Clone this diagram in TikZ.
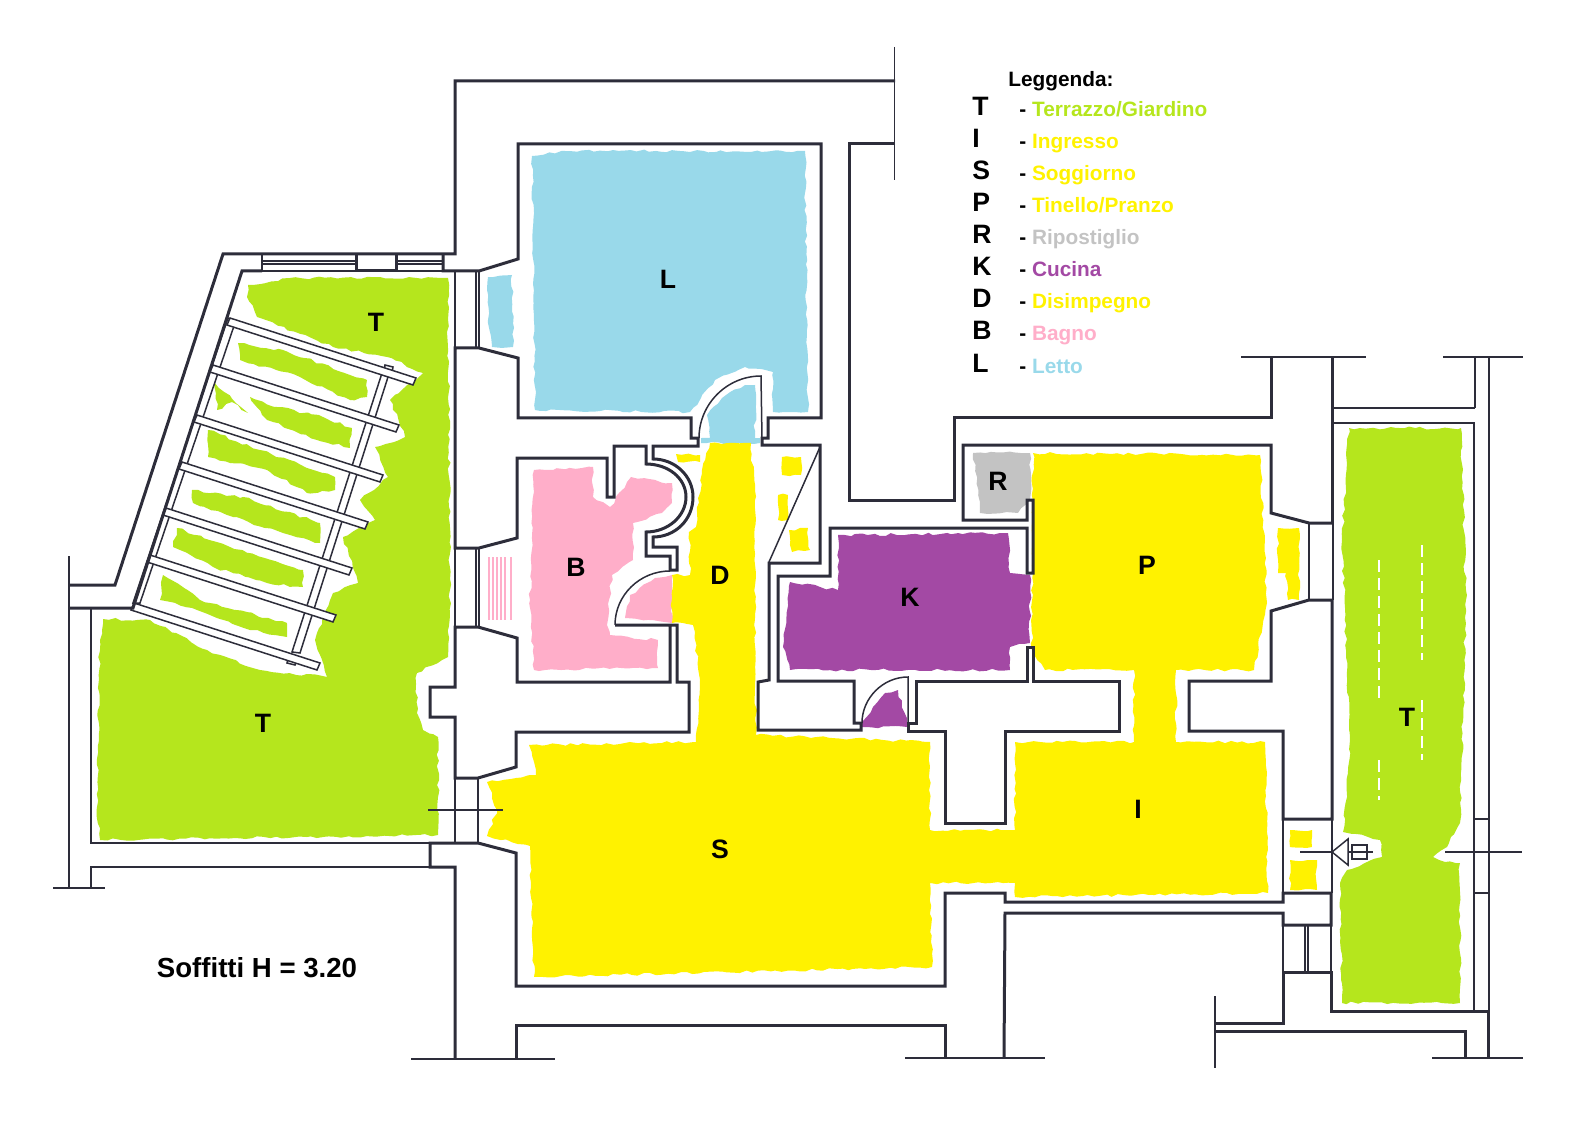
\documentclass[tikz,border=0pt]{standalone}
\usepackage{fontspec}
\setmainfont{Liberation Sans}
\usetikzlibrary{decorations.pathmorphing}
\definecolor{wallc}{RGB}{45,45,58}
\definecolor{terrazzoc}{RGB}{181,230,29}
\definecolor{giallo}{RGB}{255,242,0}
\definecolor{lettoc}{RGB}{153,217,234}
\definecolor{bagnoc}{RGB}{255,174,201}
\definecolor{cucinac}{RGB}{163,73,164}
\definecolor{ripoc}{RGB}{195,195,195}
\tikzset{
  muro/.style={draw=wallc, line width=1.5pt, line join=miter},
  sottile/.style={draw=wallc, line width=0.75pt},
  rough/.style={decorate, decoration={random steps, segment length=3pt, amplitude=0.7pt}},
  stanza/.style={font=\fontsize{13.3}{14}\selectfont\bfseries, inner sep=0pt},
  voce/.style={font=\fontsize{10.4}{12}\selectfont\bfseries, inner sep=0pt, anchor=base west},
}
\begin{document}
\begin{tikzpicture}[x=0.5pt, y=-0.5pt]
    \useasboundingbox (0,0) rectangle (1586,1123);

    % Terrazzi
    \fill[rough, terrazzoc] (248,285) -- (290,278) -- (448,278) -- (450,590) -- (448,657) -- (417,673) -- (417,713)
        -- (423,730) -- (438,737) -- (438,835) -- (100,840) -- (97,807) -- (100,640) -- (103,619) -- (150,620)
        -- (207,650) -- (260,670) -- (327,677) -- (315,640) -- (333,593) -- (358,583) -- (343,537) -- (375,520)
        -- (360,500) -- (388,477) -- (375,447) -- (405,437) -- (390,400) -- (423,373) -- (387,357) -- (333,347)
        -- (257,317) -- (247,297) -- cycle;
    \fill[rough, terrazzoc] (238,343) -- (283,350) -- (367,380) -- (367,397) -- (350,400) -- (300,377) -- (240,360) -- cycle;
    \fill[rough, terrazzoc] (250,397) -- (277,407) -- (323,417) -- (352,428) -- (350,448) -- (317,440) -- (267,420) -- cycle;
    \fill[rough, terrazzoc] (215,383) -- (248,413) -- (232,402) -- (217,410) -- cycle;
    \fill[rough, terrazzoc] (208,430) -- (260,450) -- (335,477) -- (335,490) -- (307,493) -- (267,470) -- (208,457) -- cycle;
    \fill[rough, terrazzoc] (192,490) -- (243,497) -- (320,523) -- (320,543) -- (283,533) -- (233,517) -- (193,503) -- cycle;
    \fill[rough, terrazzoc] (177,528) -- (230,547) -- (303,570) -- (303,587) -- (267,583) -- (213,567) -- (173,547) -- cycle;
    \fill[rough, terrazzoc] (163,575) -- (200,600) -- (287,623) -- (287,637) -- (250,630) -- (197,610) -- (160,600) -- cycle;
    \fill[rough, terrazzoc] (1349,428) -- (1461,428) -- (1466,600) -- (1460,823) -- (1447,847) -- (1433,857) -- (1445,862)
        -- (1460,863) -- (1460,1003) -- (1342,1003) -- (1340,883) -- (1347,870) -- (1382,857) -- (1380,840) -- (1343,832)
        -- (1350,740) -- (1342,540) -- cycle;
    \foreach \xs/\ya/\yb in {1379/560/700, 1422/545/660, 1379/760/800, 1422/700/760}
        \draw[white, line width=0.8pt, dash pattern=on 6pt off 3pt] (\xs,\ya) -- (\xs,\yb);

    % Stanze
    \fill[rough, lettoc] (532,156) -- (565,151) -- (805,151) -- (808,412) -- (773,412) -- (773,372) -- (745,367) -- (715,380)
        -- (690,412) -- (535,410) -- cycle;
    \fill[rough, lettoc] (701,443) -- (760,443) -- (760,438) -- (755,438) -- (755,385) -- (745,385) -- (722,398) -- (707,415)
        -- (710,438) -- (701,438) -- cycle;
    \fill[rough, lettoc] (488,277) -- (512,275) -- (513,347) -- (492,347) -- (488,320) -- cycle;
    \fill[rough, bagnoc] (534,470) -- (593,467) -- (593,497) -- (610,507) -- (631,477) -- (672,483) -- (672,503) -- (662,513)
        -- (633,523) -- (633,560) -- (612,575) -- (607,625) -- (610,635) -- (658,640) -- (658,668) -- (534,670) -- (530,600) -- cycle;
    \fill[rough, bagnoc] (625,618) -- (630,595) -- (655,578) -- (672,575) -- (672,623) -- cycle;
    \foreach \xs in {489,493,497,501,505,511}
        \draw[bagnoc, line width=0.9pt] (\xs,557) -- (\xs,620);
    \fill[rough, giallo] (710,443) -- (751,443) -- (755,500) -- (756,735) -- (930,742) -- (930,830) -- (1015,830) -- (1015,742)
        -- (1134,742) -- (1134,670) -- (1045,670) -- (1032,650) -- (1033,453) -- (1260,455) -- (1267,603) -- (1254,670)
        -- (1176,670) -- (1176,742) -- (1265,742) -- (1268,893) -- (1015,897) -- (1015,883) -- (930,883) -- (932,967)
        -- (534,977) -- (530,846) -- (487,836) -- (497,810) -- (487,782) -- (536,775) -- (529,745) -- (696,742) -- (700,680)
        -- (693,625) -- (672,623) -- (672,575) -- (690,575) -- (689,532) -- (696,527) -- (702,470) -- cycle;
    \fill[rough, giallo] (676,454) -- (700,455) -- (700,462) -- (678,462) -- cycle;
    \fill[rough, giallo] (782,457) -- (801,457) -- (801,475) -- (782,475) -- cycle;
    \fill[rough, giallo] (778,495) -- (788,495) -- (788,520) -- (778,520) -- cycle;
    \fill[rough, giallo] (789,530) -- (808,528) -- (810,550) -- (792,552) -- cycle;
    \fill[rough, giallo] (1278,528) -- (1299,528) -- (1299,600) -- (1288,600) -- (1286,573) -- (1278,573) -- cycle;
    \fill[rough, giallo] (1290,830) -- (1312,830) -- (1312,847) -- (1290,847) -- cycle;
    \fill[rough, giallo] (1290,860) -- (1317,860) -- (1317,890) -- (1290,890) -- cycle;
    \fill[rough, cucinac] (838,535) -- (1008,533) -- (1010,573) -- (1030,575) -- (1030,643) -- (1010,647) -- (1010,670)
        -- (790,670) -- (783,647) -- (790,582) -- (838,590) -- cycle;
    \fill[rough, cucinac] (885,693) -- (898,690) -- (907,723) -- (907,727) -- (862,727) -- (862,722) -- (873,707) -- cycle;
    \fill[rough, ripoc] (973,453) -- (1030,453) -- (1030,500) -- (1018,513) -- (980,513) -- cycle;

    % Pergolato
    \filldraw[sottile, fill=white] (228,318) -- (235,323) -- (140,603) -- (133,603) -- cycle;
    \filldraw[sottile, fill=white] (382,373) -- (388,377) -- (300,653) -- (292,652) -- cycle;
    \filldraw[sottile, fill=white] (385,365) -- (393,367) -- (392,373) -- (384,371) -- cycle;
    \filldraw[sottile, fill=white] (288,659) -- (296,662) -- (295,665) -- (287,663) -- cycle;
    \foreach \ax/\ay in {230/318, 213/365, 197/415, 182/462, 166/508, 150/555, 134/603} {
        \filldraw[sottile, fill=white] (\ax,\ay) -- ++(186,60) -- ++(-3,7) -- ++(-186,-60) -- cycle;
    }

    % Muri
    \draw[muro] (69,585) -- (115,585) -- (223,254) -- (455,254) -- (455,81) -- (895,81);
    \draw[muro] (69,608) -- (133,608) -- (242,271) -- (262,271);
    \draw[muro] (356,254) -- (356,271) -- (396,271) -- (396,254);
    \draw[muro] (443,254) -- (443,271) -- (479,271) -- (518,259) -- (518,144) -- (821,144) -- (821,418) -- (768,418) -- (768,438)
        -- (762,438) -- (762,445) -- (820,445) -- (820,563) -- (769,563) -- (769,680) -- (758,682) -- (758,730) -- (861,730)
        -- (861,723) -- (854,723) -- (854,681) -- (778,681) -- (778,576) -- (830,576) -- (830,528) -- (1027,528) -- (1027,573)
        -- (1033,573) -- (1033,500) -- (1027,500) -- (1027,520) -- (963,520) -- (963,445) -- (1271,445) -- (1271,513)
        -- (1309,523) -- (1332,523);
    \draw[muro] (895,144) -- (849,144) -- (849,500) -- (954,500) -- (954,418) -- (1271,418) -- (1271,357);
    \draw[muro] (1332,357) -- (1332,523);
    \draw[muro] (1332,600) -- (1309,600) -- (1271,611) -- (1271,681) -- (1189,681) -- (1189,731) -- (1283,731) -- (1283,819) -- (1332,819) -- (1332,600);
    \draw[muro] (1033,647) -- (1033,681) -- (1119,681) -- (1119,731) -- (1005,731) -- (1005,823) -- (945,823) -- (945,731) -- (908,731)
        -- (908,723) -- (916,723) -- (916,681) -- (1027,681) -- (1027,647) -- cycle;
    \draw[muro] (1331,893) -- (1283,893) -- (1283,902) -- (1005,902) -- (1005,893) -- (945,893) -- (945,986) -- (516,986) -- (516,853)
        -- (478,843) -- (430,843) -- (430,867) -- (455,867) -- (455,1059);
    \draw[muro] (516,1059) -- (516,1025) -- (945,1025) -- (945,1059);
    \draw[muro] (1004,1058) -- (1005,913) -- (1283,913) -- (1283,925) -- (1331,925) -- (1331,893);
    \draw[muro] (1215,1023) -- (1283,1023) -- (1283,972) -- (1331,972) -- (1331,1011) -- (1488,1011) -- (1488,1058);
    \draw[muro] (1215,1031) -- (1465,1031) -- (1465,1058);
    \draw[muro] (517,538) -- (517,458) -- (607,458) -- (607,497) -- (614,497) -- (614,446) -- (646,446) -- (646,464)
        .. controls (668,464) and (686,478) .. (686,497) .. controls (686,516) and (668,532) .. (646,532)
        -- (646,556) -- (670,556) -- (670,570) -- (677,570) -- (677,547) -- (653,547) -- (653,537)
        .. controls (675,537) and (693,520) .. (693,497) .. controls (693,476) and (675,459) .. (653,459)
        -- (653,446) -- (698,446) -- (698,438) -- (691,438) -- (691,418) -- (518,418) -- (518,358) -- (479,348) -- (455,348)
        -- (455,548) -- (479,548) -- cycle;
    \draw[muro] (615,625) -- (670,625) -- (670,682) -- (517,682) -- (517,638) -- (478,627) -- (455,627) -- (455,687) -- (430,687)
        -- (430,717) -- (455,717) -- (455,778) -- (478,778) -- (516,767) -- (516,732) -- (689,732) -- (689,682) -- (677,682)
        -- (677,625) -- (670,625);

    % Porte
    \draw[sottile] (699,438) .. controls (699,404) and (727,376) .. (761,376) -- (762,438);
    \draw[sottile] (862,723) .. controls (862,698) and (883,677) .. (908,677) -- (908,723);
    \draw[sottile] (615,625) .. controls (615,595) and (640,571) .. (670,571);

    % Finestre e linee sottili
    \foreach \ys in {254,261,264,271}
        \draw[sottile] (262,\ys) -- (356,\ys) (396,\ys) -- (443,\ys);
    \foreach \xs in {262,356,396,443}
        \draw[sottile] (\xs,254) -- (\xs,271);
    \foreach \xs in {455,476,479}
        \draw[sottile] (\xs,271) -- (\xs,348) (\xs,548) -- (\xs,627);
    \draw[sottile] (455,778) -- (455,843) (478,778) -- (478,843) (428,810) -- (503,810);
    \draw[sottile] (1309,523) -- (1309,600) (1333,523) -- (1333,600);
    \draw[sottile] (820,447) -- (769,562);
    \draw[sottile] (69,556) -- (69,888) (53,888) -- (105,888) (91,609) -- (91,843) -- (430,843) (91,888) -- (91,867) -- (430,867);
    \draw[sottile] (411,1059) -- (555,1059) (905,1058) -- (1045,1058) (1432,1058) -- (1523,1058);
    \draw[sottile] (1215,996) -- (1215,1068);
    \draw[sottile] (894.5,47) -- (894.5,180) (1241,357) -- (1366,357) (1443,357) -- (1523,357);
    \draw[sottile] (1475,357) -- (1475,408) (1474,423) -- (1474,1011) (1489,357) -- (1489,1058);
    \draw[sottile] (1332,408) -- (1475,408) (1332,423) -- (1475,423) (1474,819) -- (1489,819) (1474,893) -- (1489,893);
    \draw[sottile] (1283,819) -- (1283,893) (1332,819) -- (1332,893) (1283,925) -- (1283,972) (1331,925) -- (1331,972);
    \draw[sottile] (1305,925) -- (1305,972) (1308,925) -- (1308,972);
    \draw[sottile] (1300,852) -- (1373,852) (1445,852) -- (1522,852);
    \filldraw[sottile, fill=white] (1332,852) -- (1348,839) -- (1348,865) -- cycle;
    \draw[sottile] (1352,845) rectangle (1367,859);

    % Etichette
    \node[stanza] (tsu) at (376,322) {T};
    \node[stanza] (tgiu) at (263,723) {T};
    \node[stanza] (tdx) at (1407,717) {T};
    \node[stanza] (letto) at (668,279) {L};
    \node[stanza] (bagno) at (576,567) {B};
    \node[stanza] (dis) at (720,575) {D};
    \node[stanza] (cucina) at (910,597) {K};
    \node[stanza] (ripo) at (998,481) {R};
    \node[stanza] (pranzo) at (1147,565) {P};
    \node[stanza] (sogg) at (720,849) {S};
    \node[stanza] (ingr) at (1138,809) {I};
    \node[stanza, font=\fontsize{13.8}{15}\selectfont\bfseries] (soffitti) at (257,968) {Soffitti H = 3.20};

    % Leggenda
    \node[voce] (titolo) at (1008,87) {Leggenda:};
    \foreach \tag/\word/\col [count=\i from 0] in {T/Terrazzo\slash Giardino/terrazzoc, I/Ingresso/giallo, S/Soggiorno/giallo,
        P/Tinello\slash Pranzo/giallo, R/Ripostiglio/ripoc, K/Cucina/cucinac, D/Disimpegno/giallo, B/Bagno/bagnoc, L/Letto/lettoc} {
        \node[stanza, anchor=base west] (sigla\i) at (972,116+32*\i) {\tag};
        \node[voce] (voce\i) at (1019,117+32*\i) {- \textcolor{\col}{\word}};
    }
\end{tikzpicture}
\end{document}
